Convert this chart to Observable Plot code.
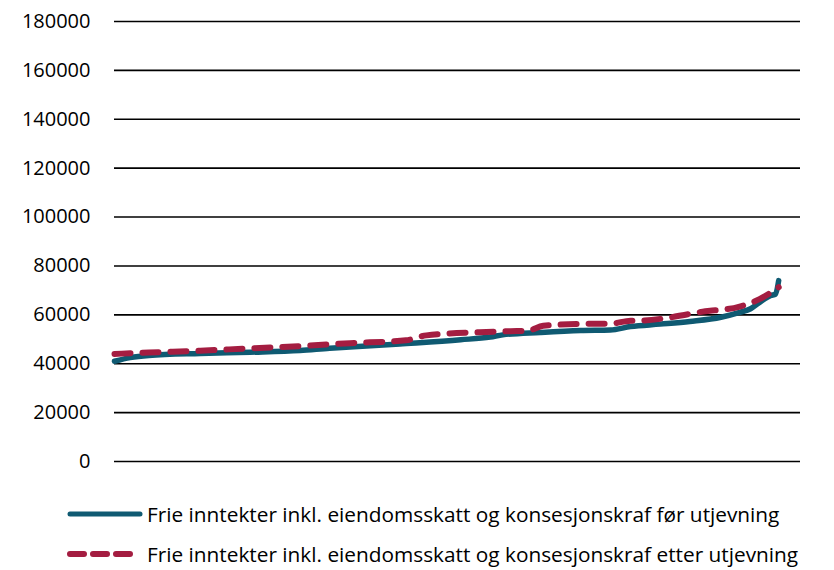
<!DOCTYPE html>
<html>
<head>
<meta charset="utf-8">
<script src="https://cdn.jsdelivr.net/npm/d3@7"></script>
<script src="https://cdn.jsdelivr.net/npm/@observablehq/plot@0.6"></script>
<style>
  html, body { margin: 0; padding: 0; background: #fff; }
  #wrap { position: relative; width: 834px; height: 570px; font-family: "Open Sans", Lato, sans-serif; color: #000; }
  .leg { position: absolute; left: 64px; display: flex; align-items: center; font-size: 20.8px; line-height: 28px; white-space: nowrap; }
  .leg svg { margin-right: 3px; }
</style>
</head>
<body>
<div id="wrap">
  <div id="chart"></div>
  <div class="leg" style="top:500px"><svg width="80" height="12"><line x1="6" y1="6" x2="76" y2="6" stroke="#0f5a72" stroke-width="5" stroke-linecap="round"/></svg><span>Frie inntekter inkl. eiendomsskatt og konsesjonskraf før utjevning</span></div>
  <div class="leg" style="top:540px"><svg width="80" height="12"><line x1="6" y1="6" x2="70" y2="6" stroke="#a41d41" stroke-width="6" stroke-linecap="round" stroke-dasharray="14,9"/></svg><span>Frie inntekter inkl. eiendomsskatt og konsesjonskraf etter utjevning</span></div>
</div>
<script>
const yTicks = [0, 20000, 40000, 60000, 80000, 100000, 120000, 140000, 160000, 180000];

const rankFor = [1, 11, 23, 56, 88, 120, 139, 152, 184, 223, 242, 250, 274, 300, 319, 332, 351, 370, 390, 402, 409, 415, 422, 425, 427];
const valFor  = [41000, 42500, 43400, 44200, 44700, 45400, 46300, 46800, 48100, 49800, 50900, 51800, 52800, 53600, 53800, 55200, 56200, 57300, 59000, 61000, 62500, 65200, 67900, 68500, 74000];

const rankEtter = [1, 23, 56, 88, 120, 152, 188, 201, 235, 255, 266, 276, 300, 319, 332, 340, 353, 370, 383, 390, 402, 415, 427];
const valEtter  = [44000, 44600, 45300, 46300, 47200, 48400, 49600, 51600, 52900, 53300, 53500, 55500, 56300, 56400, 57600, 57700, 58500, 60400, 61700, 62000, 63400, 66500, 71300];

const seriesFor = rankFor.map((r, i) => ({rank: r, value: valFor[i]}));
const seriesEtter = rankEtter.map((r, i) => ({rank: r, value: valEtter[i]}));

const plot = Plot.plot({
  width: 834,
  height: 475,
  marginLeft: 114,
  marginRight: 34,
  marginTop: 21,
  marginBottom: 14,
  style: {fontFamily: "'Open Sans', Lato, sans-serif", fontSize: "20px", color: "#000", background: "#fff"},
  x: {domain: [1, 441], axis: null},
  y: {domain: [0, 180000], axis: null},
  marks: [
    Plot.ruleY(yTicks, {stroke: "#000", strokeWidth: 1.6}),
    Plot.axisY(yTicks, {tickSize: 0, tickPadding: 24, tickFormat: d => String(d), fontSize: 20, fill: "#000", label: null}),
    Plot.line(seriesFor, {x: "rank", y: "value", stroke: "#0f5a72", strokeWidth: 5.5, curve: "monotone-x", strokeLinecap: "round"}),
    Plot.line(seriesEtter, {x: "rank", y: "value", stroke: "#a41d41", strokeWidth: 6, curve: "monotone-x", strokeDasharray: "16,12", strokeLinecap: "round"})
  ]
});
document.getElementById("chart").appendChild(plot);
</script>
</body>
</html>
